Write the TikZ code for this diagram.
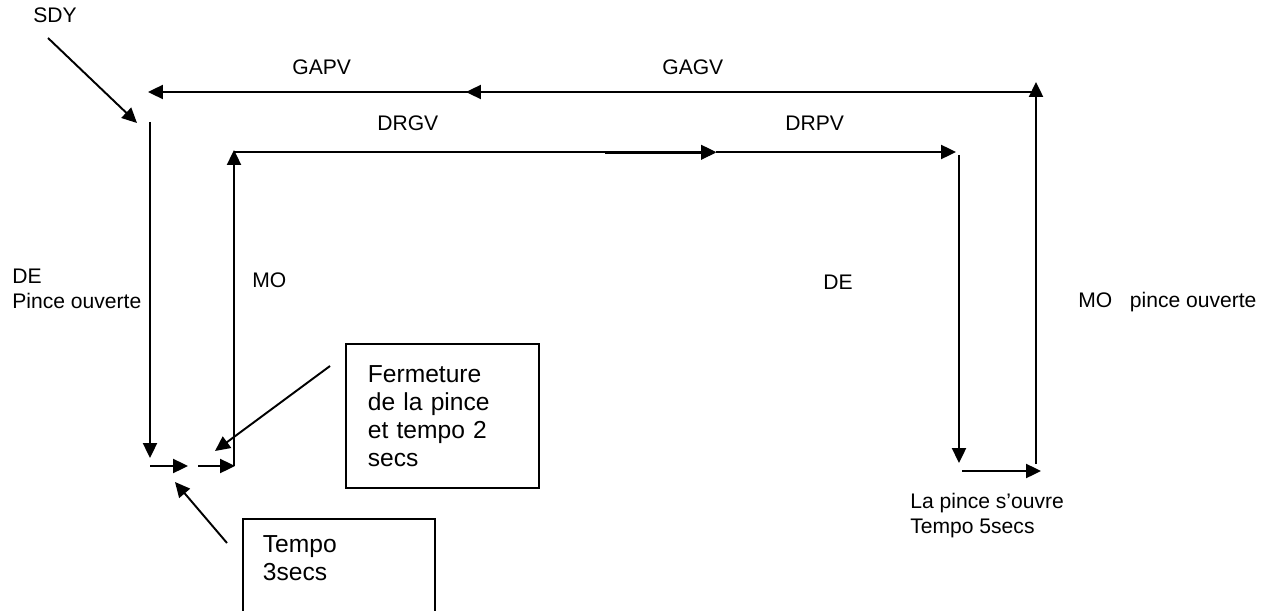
\documentclass[tikz,border=0pt]{standalone}
\usepackage{fontspec}
\setmainfont{Liberation Sans}
\usetikzlibrary{arrows.meta,positioning,calc}

\tikzset{
  fleche/.style={line width=1.1pt,-{Triangle[length=8.5pt,width=8pt]}},
  etiq/.style={inner sep=0pt,anchor=base west,align=left,
    font=\fontsize{12}{13.8}\selectfont},
  boite/.style={draw,line width=1pt,anchor=north west,align=left,
    font=\fontsize{14}{16}\selectfont}
}

\begin{document}
\begin{tikzpicture}[x=0.02cm,y=-0.02cm]
  \useasboundingbox (0,0) rectangle (1270,611);
  %
  % points du parcours
  \coordinate (sdyA) at (48,38);
  \coordinate (sdyB) at (137,123);
  \coordinate (gagvA) at (1036,92);
  \coordinate (gagvB) at (466,92);
  \coordinate (gapvA) at (470,92);
  \coordinate (gapvB) at (148,92);
  \coordinate (deA) at (150,122);
  \coordinate (deB) at (150,458);
  \coordinate (tpA) at (150,466);
  \coordinate (tpB) at (188,466);
  \coordinate (fpA) at (198,466);
  \coordinate (fpB) at (235,466);
  \coordinate (moA) at (234,466);
  \coordinate (moB) at (234,150);
  \coordinate (drgvA) at (234,152);
  \coordinate (drgvM) at (605,152.6);
  \coordinate (drgvB) at (716,152);
  \coordinate (drgvC) at (716,152.6);
  \coordinate (drpvB) at (956,152);
  \coordinate (de2A) at (959,155);
  \coordinate (de2B) at (959,463);
  \coordinate (ouvA) at (962,471);
  \coordinate (ouvB) at (1041,471);
  \coordinate (mo2A) at (1036,464);
  \coordinate (mo2B) at (1036,82);
  \coordinate (fermA) at (330,366);
  \coordinate (fermB) at (215,451);
  \coordinate (tempoA) at (227,543);
  \coordinate (tempoB) at (175,482);
  %
  % textes
  \node[etiq] (sdy) at (33,23) {SDY};
  \node[etiq] (gapv) at (292,75) {GAPV};
  \node[etiq] (gagv) at (662,75) {GAGV};
  \node[etiq] (drgv) at (377,131) {DRGV};
  \node[etiq] (drpv) at (785,131) {DRPV};
  \node[etiq] (dePince) at (12,308) {DE\\Pince ouverte};
  \node[etiq] (mo) at (252,287) {MO};
  \node[etiq] (deDroit) at (823,289) {DE};
  \node[etiq] (moPince) at (1078,307) {MO\ \ \ pince ouverte};
  \node[etiq] (ouvre) at (910,533) {La pince s’ouvre\\Tempo 5secs};
  %
  % boites
  \node[boite, inner xsep=0.44cm, text width=2.98cm, minimum height=2.88cm]
    (fermeture) at (345,343) {Fermeture\\de la pince\\et tempo 2\\secs};
  \node[boite, inner xsep=0.4cm, inner ysep=0.34cm, text width=3.04cm, text depth=3cm]
    (tempo) at (242,518) {Tempo\\3secs};
  %
  % fleches
  \draw[fleche] (sdyA) -- (sdyB);
  \draw[fleche] (gagvA) -- (gagvB);
  \draw[fleche] (gapvA) -- (gapvB);
  \draw[fleche] (deA) -- (deB);
  \draw[fleche] (tpA) -- (tpB);
  \draw[fleche] (fpA) -- (fpB);
  \draw[fleche] (moA) -- (moB);
  \draw[fleche] (drgvA) -- (drgvB);
  \draw[fleche] (drgvM) -- (drgvC);
  \draw[fleche] (drgvB) -- (drpvB);
  \draw[fleche] (de2A) -- (de2B);
  \draw[fleche] (ouvA) -- (ouvB);
  \draw[fleche] (mo2A) -- (mo2B);
  \draw[fleche] (fermA) -- (fermB);
  \draw[fleche] (tempoA) -- (tempoB);
\end{tikzpicture}
\end{document}
